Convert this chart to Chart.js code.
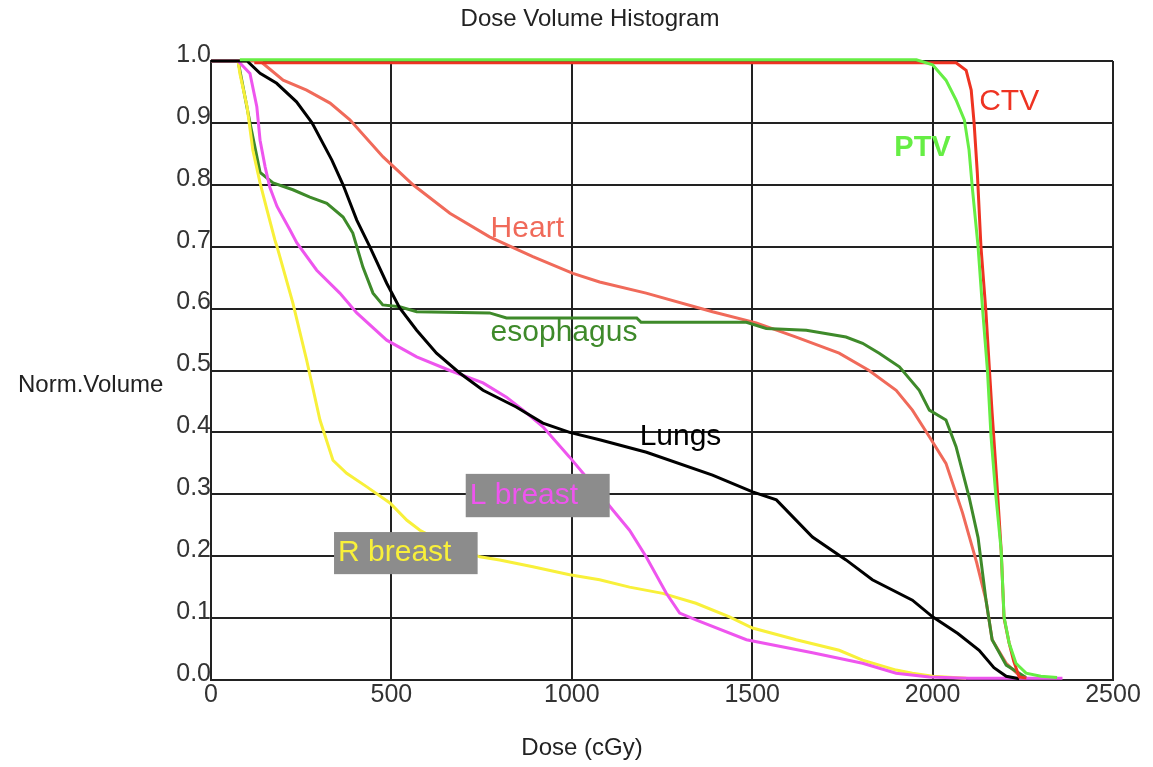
<!DOCTYPE html>
<html>
<head>
<meta charset="utf-8">
<script src="https://cdn.jsdelivr.net/npm/chart.js@4"></script>
<style>
  body { margin: 0; background: #fff; }
  #wrap { width: 1153px; height: 767px; }
</style>
</head>
<body>
<div id="wrap"><canvas id="dvh" width="1153" height="767"></canvas></div>
<script>
// dose in cGy, volume as fraction
let ctvDose = [120, 2065, 2093, 2107, 2115, 2124, 2134, 2148, 2157, 2165, 2178, 2190, 2198, 2212, 2225, 2240, 2260];
let ctvVol = [0.997, 0.997, 0.985, 0.953, 0.90, 0.819, 0.70, 0.593, 0.506, 0.431, 0.32, 0.21, 0.10, 0.06, 0.03, 0.005, 0.003];

let ptvDose = [80, 1955, 2000, 2037, 2065, 2088, 2101, 2110, 2126, 2138, 2152, 2162, 2175, 2190, 2198, 2212, 2231, 2259, 2300, 2345];
let ptvVol = [1.002, 1.002, 0.994, 0.969, 0.937, 0.905, 0.856, 0.796, 0.70, 0.603, 0.50, 0.393, 0.30, 0.21, 0.102, 0.06, 0.027, 0.011, 0.006, 0.004];

let heartDose = [0, 136, 200, 265, 330, 385, 477, 560, 662, 772, 892, 1003, 1077, 1206, 1390, 1511, 1622, 1741, 1824, 1899, 1944, 1991, 2037, 2083, 2122, 2148, 2165, 2204, 2248];
let heartVol = [1, 1, 0.969, 0.953, 0.932, 0.905, 0.845, 0.80, 0.754, 0.716, 0.684, 0.657, 0.643, 0.625, 0.595, 0.577, 0.554, 0.528, 0.50, 0.468, 0.436, 0.393, 0.35, 0.27, 0.19, 0.129, 0.065, 0.027, 0.003];

let esoDose = [0, 75, 108, 136, 172, 227, 274, 321, 366, 393, 421, 449, 476, 523, 570, 772, 819, 1180, 1192, 1484, 1539, 1650, 1760, 1806, 1852, 1908, 1963, 1991, 2037, 2065, 2101, 2126, 2148, 2165, 2204, 2259];
let esoVol = [1, 1, 0.90, 0.82, 0.803, 0.792, 0.78, 0.77, 0.748, 0.722, 0.667, 0.625, 0.606, 0.603, 0.595, 0.593, 0.585, 0.585, 0.578, 0.578, 0.568, 0.565, 0.554, 0.544, 0.528, 0.506, 0.468, 0.436, 0.42, 0.377, 0.296, 0.23, 0.129, 0.065, 0.024, 0.004];

let lungDose = [0, 100, 136, 182, 237, 280, 335, 366, 404, 440, 487, 523, 570, 625, 689, 754, 846, 920, 994, 1077, 1207, 1390, 1501, 1567, 1667, 1760, 1833, 1944, 2000, 2070, 2129, 2170, 2204, 2240];
let lungVol = [1, 1, 0.98, 0.964, 0.934, 0.90, 0.84, 0.80, 0.743, 0.70, 0.641, 0.601, 0.565, 0.528, 0.496, 0.468, 0.441, 0.415, 0.40, 0.388, 0.368, 0.331, 0.304, 0.291, 0.231, 0.194, 0.162, 0.129, 0.102, 0.075, 0.048, 0.02, 0.006, 0.002];

let lBreastDose = [0, 75, 108, 127, 136, 150, 163, 183, 219, 238, 293, 357, 404, 487, 570, 662, 754, 819, 865, 920, 994, 1040, 1113, 1160, 1206, 1262, 1299, 1344, 1484, 1667, 1806, 1899, 1991, 2100, 2360];
let lBreastVol = [1, 1, 0.98, 0.926, 0.872, 0.829, 0.796, 0.765, 0.727, 0.706, 0.662, 0.625, 0.593, 0.549, 0.522, 0.50, 0.48, 0.457, 0.436, 0.409, 0.36, 0.328, 0.275, 0.242, 0.199, 0.14, 0.108, 0.097, 0.065, 0.044, 0.027, 0.011, 0.005, 0.003, 0.003];

let rBreastDose = [0, 75, 80, 100, 116, 136, 155, 177, 183, 227, 265, 302, 338, 376, 432, 496, 543, 579, 650, 745, 800, 892, 994, 1077, 1160, 1252, 1344, 1437, 1501, 1622, 1741, 1806, 1899, 1944, 2000, 2093];
let rBreastVol = [1, 1, 0.98, 0.926, 0.856, 0.803, 0.76, 0.711, 0.70, 0.609, 0.517, 0.42, 0.355, 0.334, 0.312, 0.286, 0.258, 0.242, 0.22, 0.199, 0.194, 0.183, 0.17, 0.162, 0.15, 0.14, 0.124, 0.102, 0.084, 0.065, 0.048, 0.032, 0.016, 0.011, 0.006, 0.003];

// curve labels: text, dose, volume (left/middle of the text), colour, box
let curveLabels = [
  { text: 'CTV', x: 2129, y: 0.934, color: '#ee3322', bold: false },
  { text: 'PTV', x: 1894, y: 0.859, color: '#66ee44', bold: true },
  { text: 'Heart', x: 775, y: 0.729, color: '#f06a5a', bold: false },
  { text: 'esophagus', x: 775, y: 0.561, color: '#3e8a2a', bold: false },
  { text: 'Lungs', x: 1188, y: 0.393, color: '#000000', bold: false },
  { text: 'L breast', x: 706, y: 0.298, color: '#ee55ee', bold: false, box: [706, 1105, 0.333, 0.263] },
  { text: 'R breast', x: 341, y: 0.205, color: '#f8f03a', bold: false, box: [341, 739, 0.239, 0.171] }
];

function pts(xs, ys) {
  return xs.map((d, i) => ({ x: d, y: ys[i] }));
}

function series(label, xs, ys, color) {
  return {
    label: label,
    data: pts(xs, ys),
    borderColor: color,
    backgroundColor: color,
    borderWidth: 3,
    pointRadius: 0,
    tension: 0,
    fill: false,
    clip: 6
  };
}

const FONT = 'Liberation Sans, Arial, sans-serif';

const textPlugin = {
  id: 'dvhText',
  afterDatasetsDraw(chart) {
    const ctx = chart.ctx;
    const xs = chart.scales.x, ys = chart.scales.y;
    const area = chart.chartArea;
    ctx.save();
    curveLabels.forEach(l => {
      if (l.box) {
        const bx = xs.getPixelForValue(l.box[0]);
        const bx2 = xs.getPixelForValue(l.box[1]);
        const by = ys.getPixelForValue(l.box[2]);
        const by2 = ys.getPixelForValue(l.box[3]);
        ctx.fillStyle = '#8c8c8c';
        ctx.fillRect(bx, by, bx2 - bx, by2 - by);
      }
      ctx.font = (l.bold ? 'bold 29px ' : '30px ') + FONT;
      ctx.fillStyle = l.color;
      ctx.textAlign = 'left';
      ctx.textBaseline = 'middle';
      ctx.fillText(l.text, xs.getPixelForValue(l.x) + (l.box ? 4 : 0), ys.getPixelForValue(l.y));
    });
    ctx.fillStyle = '#222';
    ctx.font = '24px ' + FONT;
    ctx.textAlign = 'center';
    ctx.textBaseline = 'middle';
    ctx.fillText('Dose Volume Histogram', 590, 19);
    ctx.fillText('Dose (cGy)', (area.left + area.right) / 2 - 80, 748);
    ctx.textAlign = 'left';
    ctx.fillText('Norm.Volume', 18, 385);
    ctx.restore();
  }
};

let dvhChart = new Chart(document.getElementById('dvh').getContext('2d'), {
  type: 'line',
  data: {
    datasets: [
      series('PTV', ptvDose, ptvVol, '#66ee44'),
      series('CTV', ctvDose, ctvVol, '#ee3322'),
      series('Lungs', lungDose, lungVol, '#000000'),
      series('L breast', lBreastDose, lBreastVol, '#ee55ee'),
      series('R breast', rBreastDose, rBreastVol, '#f8f03a'),
      series('esophagus', esoDose, esoVol, '#3e8a2a'),
      series('Heart', heartDose, heartVol, '#f06a5a')
    ]
  },
  options: {
    responsive: false,
    animation: false,
    layout: { padding: { top: 61, right: 40, bottom: 0, left: 0 } },
    plugins: {
      legend: { display: false },
      tooltip: { enabled: false },
      title: { display: false }
    },
    scales: {
      x: {
        type: 'linear',
        min: 0,
        max: 2500,
        afterFit: s => { s.height = 87; },
        ticks: {
          stepSize: 500,
          color: '#333',
          padding: 0,
          font: { family: FONT, size: 25 },
          callback: v => String(v)
        },
        grid: { color: '#222', lineWidth: 2, drawTicks: false },
        border: { color: '#222', width: 2 }
      },
      y: {
        min: 0,
        max: 1,
        afterFit: s => { s.width = 211; },
        ticks: {
          stepSize: 0.1,
          color: '#333',
          padding: 0,
          labelOffset: -6,
          font: { family: FONT, size: 25 },
          callback: v => v.toFixed(1)
        },
        grid: { color: '#222', lineWidth: 2, drawTicks: false },
        border: { color: '#222', width: 2 }
      }
    }
  },
  plugins: [textPlugin]
});
</script>
</body>
</html>
